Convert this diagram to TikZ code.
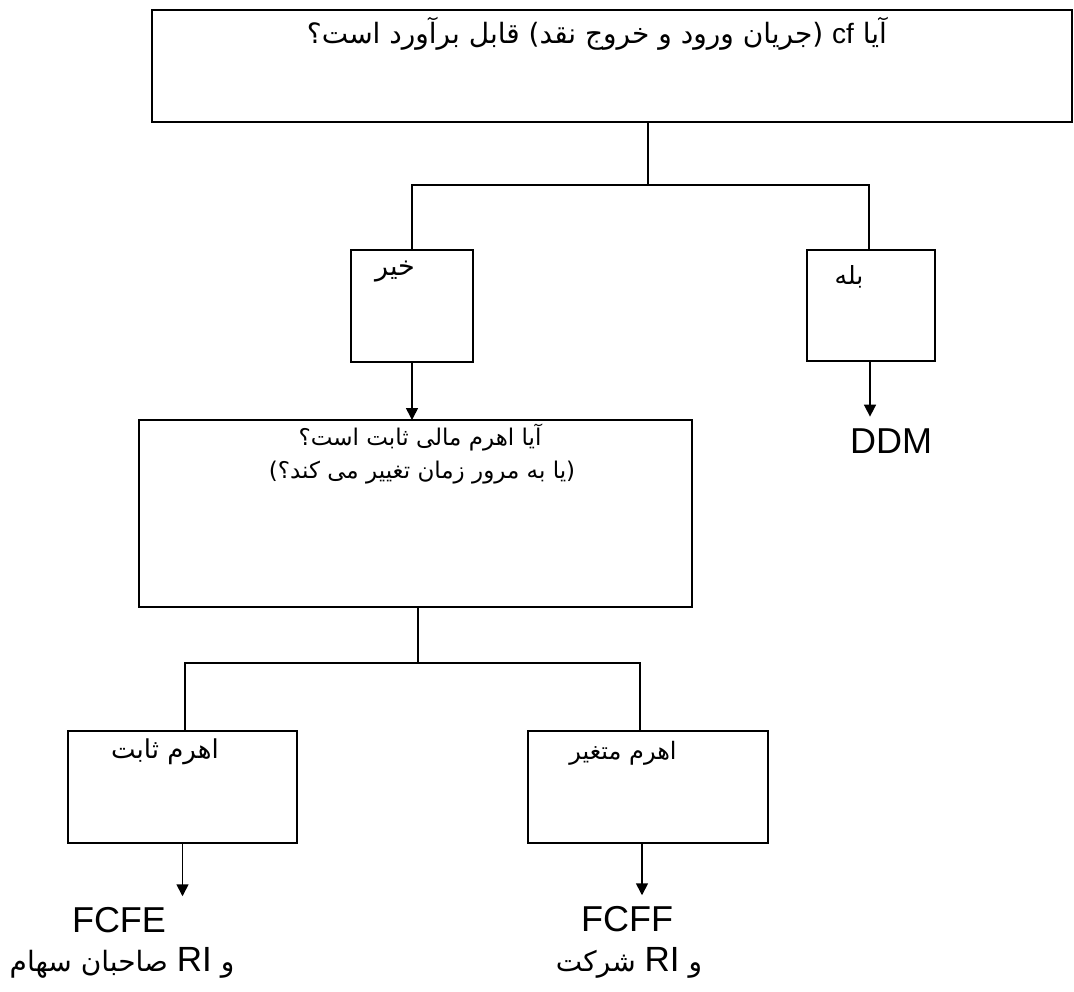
\documentclass[tikz,border=0pt]{standalone}
\usepackage{fontspec}
\usetikzlibrary{arrows.meta}
\TeXXeTstate=1
\newfontfamily\fa[Script=Arabic]{DejaVu Sans}
\newfontfamily\lat{Liberation Sans}
\begin{document}
\begin{tikzpicture}[x=1pt,y=-1pt,
  box/.style={draw, line width=1.6pt, inner sep=0pt, outer sep=0pt},
  conn/.style={line width=1.6pt},
  arr/.style={line width=1.6pt,-{Triangle[width=12pt,length=12pt]}},
  txt/.style={inner sep=0pt, outer sep=0pt},
  fatxt/.style={txt, font=\fontsize{25}{29}\selectfont\fa},
  lattxt/.style={txt, font=\fontsize{36}{40}\selectfont\lat}]
\useasboundingbox (0,0) rectangle (1074,991);
% boxes
\node[box, minimum width=920pt, minimum height=112pt] (top) at (612,66) {};
\node[box, minimum width=122pt, minimum height=112pt] (no) at (412,306) {};
\node[box, minimum width=128pt, minimum height=111pt] (yes) at (871,305.5) {};
\node[box, minimum width=553pt, minimum height=187pt] (mid) at (415.5,513.5) {};
\node[box, minimum width=229pt, minimum height=112pt] (fixed) at (182.5,787) {};
\node[box, minimum width=240pt, minimum height=112pt] (var) at (648,787) {};
% texts
\node[txt, font=\fontsize{28}{32}\selectfont\fa, anchor=east] (toptext) at (887,34) {\beginR آیا \beginL{\lat cf}\endL{} (جریان ورود و خروج نقد) قابل برآورد است؟\endR};
\node[fatxt, font=\fontsize{27}{31}\selectfont\fa] (notext) at (395,272) {\beginR خیر\endR};
\node[fatxt] (yestext) at (849,277) {\beginR بله\endR};
\node[fatxt, font=\fontsize{23}{27}\selectfont\fa] (midl1) at (420,438) {\beginR آیا اهرم مالی ثابت است؟\endR};
\node[fatxt, font=\fontsize{23}{27}\selectfont\fa] (midl2) at (422,473) {\beginR (یا به مرور زمان تغییر می کند؟)\endR};
\node[fatxt, font=\fontsize{26}{30}\selectfont\fa] (fixedtext) at (165,752) {\beginR اهرم ثابت\endR};
\node[fatxt, font=\fontsize{24}{28}\selectfont\fa] (vartext) at (623,753) {\beginR اهرم متغیر\endR};
\node[lattxt, outer ysep=12pt] (ddm) at (891,441) {DDM};
\node[lattxt, outer ysep=11pt] (fcfe) at (119,920) {FCFE};
\node[lattxt, outer ysep=11pt] (fcff) at (627,919) {FCFF};
\node[fatxt, font=\fontsize{28}{32}\selectfont\fa] (fcfenote) at (122,963) {\beginR و \beginL{\lat\fontsize{35}{38}\selectfont RI}\endL{} صاحبان سهام\endR};
\node[fatxt, font=\fontsize{28}{32}\selectfont\fa] (fcffnote) at (629,963) {\beginR و \beginL{\lat\fontsize{35}{38}\selectfont RI}\endL{} شرکت\endR};
% connectors
\coordinate (j1) at (648,185);
\draw[conn] (top.south -| j1) -- (j1);
\draw[conn] (no.north) |- (j1) -| ([xshift=-2pt]yes.north);
\draw[arr] (no.south) -- (no.south |- mid.north);
\draw[arr] ([xshift=-1pt]yes.south) -- ([xshift=-1pt]yes.south |- ddm.north);
\coordinate (j2) at (418,663);
\draw[conn] (mid.south -| j2) -- (j2);
\draw[conn] ([xshift=2.5pt]fixed.north) |- (j2) -| ([xshift=-8pt]var.north);
\draw[arr] (fixed.south) -- (fixed.south |- fcfe.north);
\draw[arr] ([xshift=-6pt]var.south) -- ([xshift=-6pt]var.south |- fcff.north);
\end{tikzpicture}
\end{document}
